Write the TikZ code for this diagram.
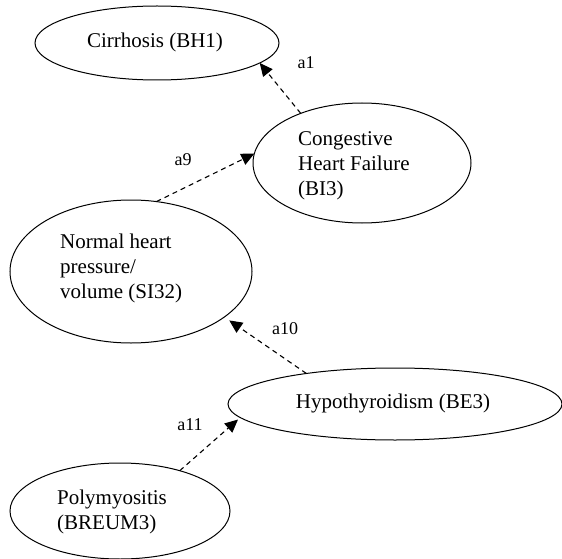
\documentclass[tikz,border=0pt]{standalone}
\usepackage{fontspec}
\setmainfont{Liberation Serif}
\usetikzlibrary{shapes.geometric,arrows.meta}
\begin{document}
\begin{tikzpicture}[x=1pt,y=-1pt,
  oval/.style={draw=black, line width=1pt, ellipse, inner sep=0pt, outer sep=0pt},
  txt/.style={font=\fontsize{21}{25}\selectfont, align=left, inner sep=0pt},
  lbl/.style={font=\fontsize{18}{20}\selectfont, inner sep=0pt},
  link/.style={draw=black, line width=1.1pt, dash pattern=on 5pt off 4pt,
    -{Triangle[length=13pt,width=12pt]}}]
\useasboundingbox[fill=white] (0,0) rectangle (562,559);
% ellipses
\node[oval, minimum width=244pt, minimum height=74pt]  (cir)  at (157,43) {};
\node[oval, minimum width=218pt, minimum height=120pt] (chf)  at (362,163) {};
\node[oval, minimum width=242pt, minimum height=143pt] (norm) at (131,271.5) {};
\node[oval, minimum width=334pt, minimum height=72pt]  (hyp)  at (395,404) {};
\node[oval, minimum width=220pt, minimum height=96pt]  (poly) at (120,511) {};
% texts
\node[txt] (cir-t) at (155,42) {Cirrhosis (BH1)};
\node[txt, anchor=west] (chf-t) at (298,166) {Congestive\\Heart Failure\\(BI3)};
\node[txt, anchor=west] (norm-t) at (60,268) {Normal heart\\pressure/\\volume (SI32)};
\node[txt] (hyp-t) at (393,403) {Hypothyroidism (BE3)};
\node[txt, anchor=west] (poly-t) at (57,512) {Polymyositis\\(BREUM3)};
% connectors
\draw[link] (chf.141) -- (cir.349);
\draw[link] (norm.70) -- (chf.175);
\draw[link, shorten >=6pt] (hyp.161) -- (norm.334);
\draw[link, shorten >=3pt] (poly.34) -- (hyp.185);
% labels
\node[lbl] (l1)  at (306,63)  {a1};
\node[lbl] (l9)  at (183,160) {a9};
\node[lbl] (l10) at (285,329) {a10};
\node[lbl] (l11) at (190,425) {a11};
\end{tikzpicture}
\end{document}
